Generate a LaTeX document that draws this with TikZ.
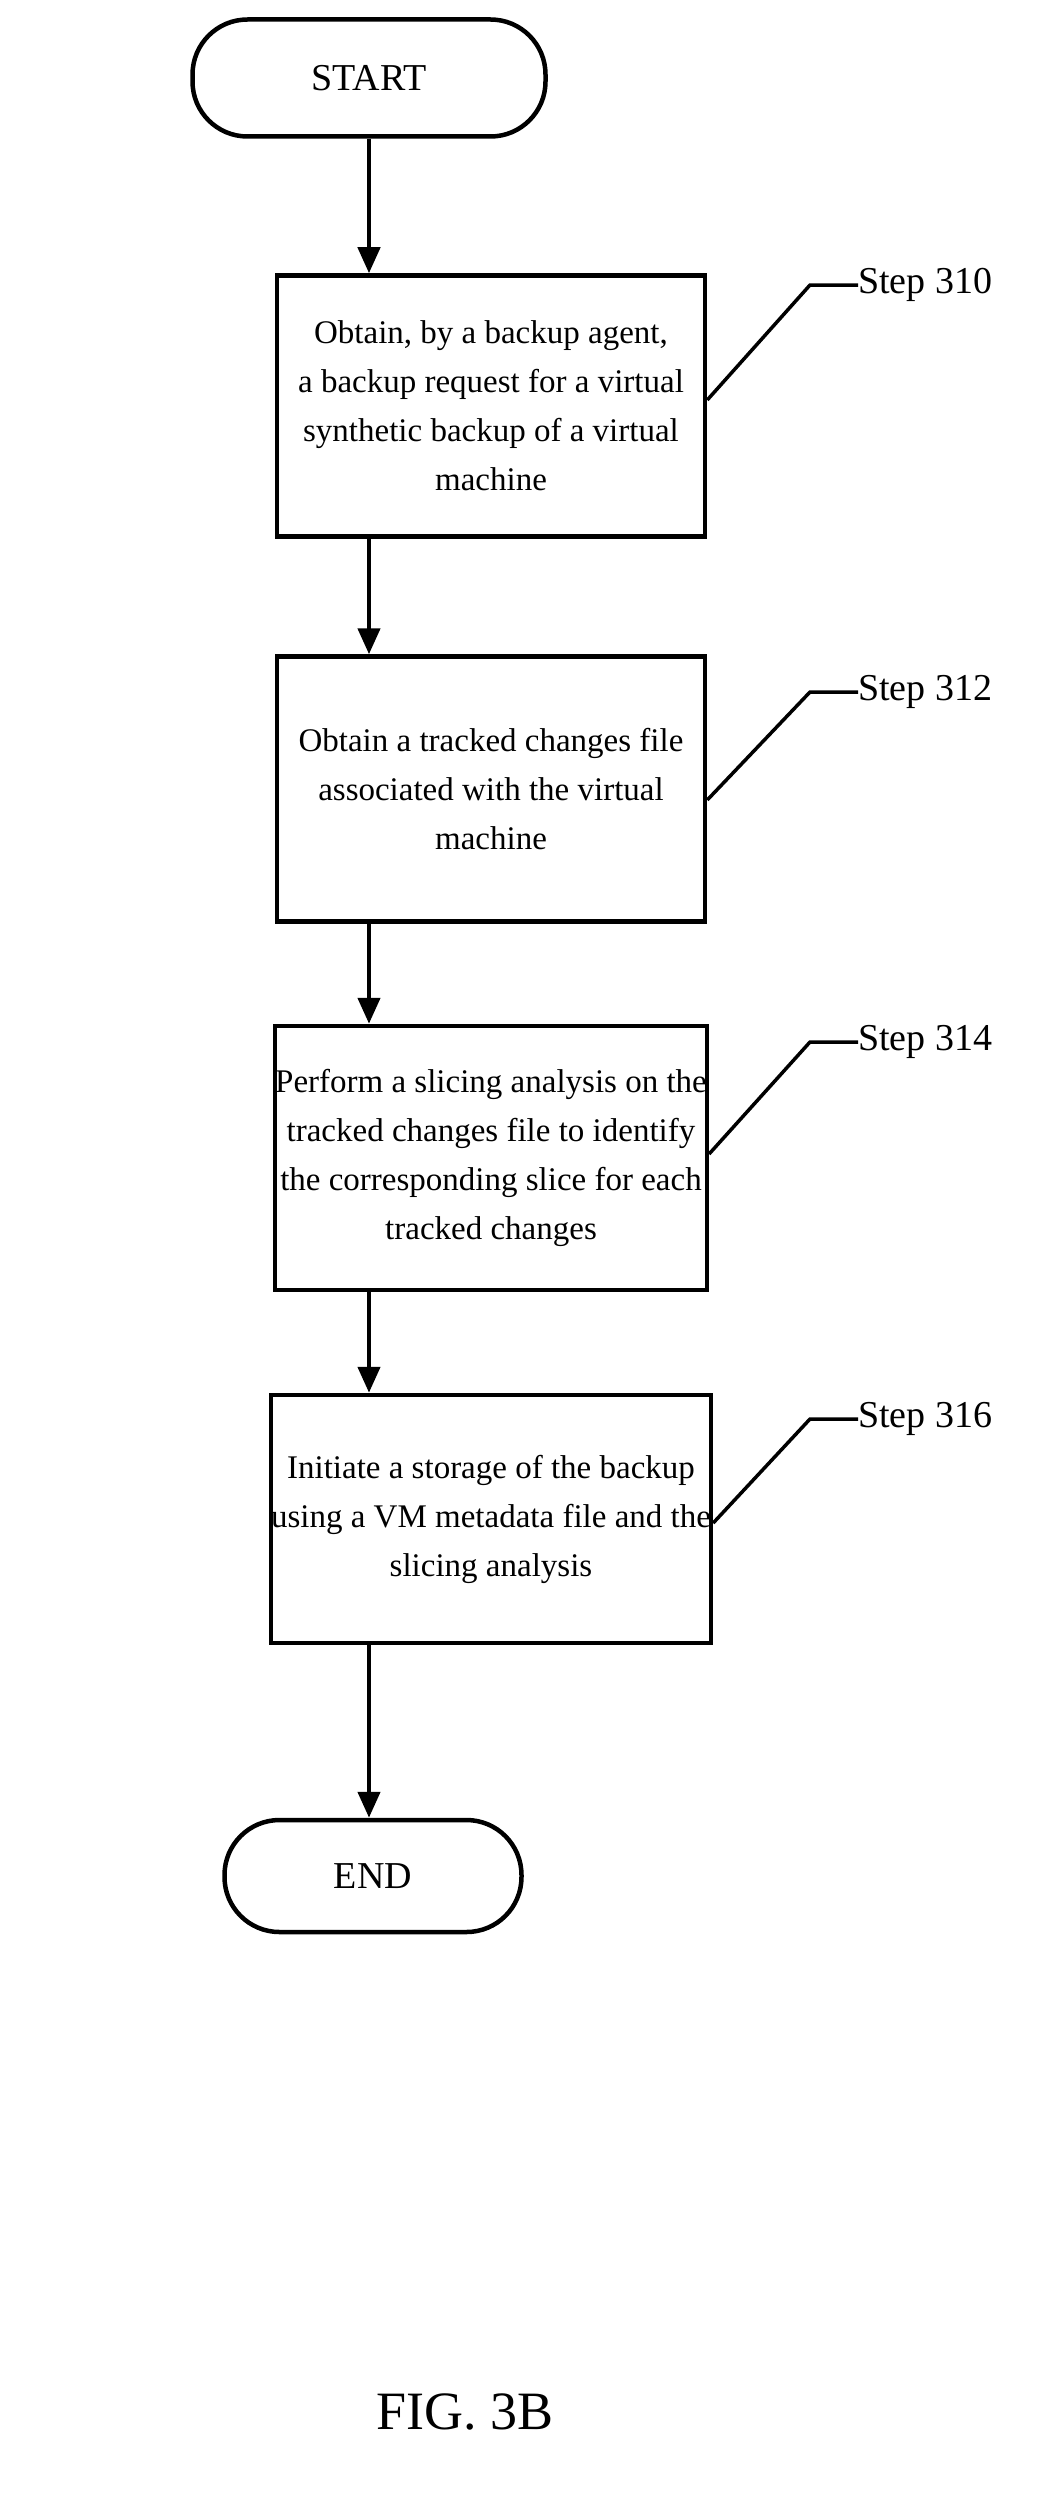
\documentclass[tikz,border=0pt]{standalone}
\usepackage{fontspec}
\setmainfont{Liberation Serif}
\usetikzlibrary{arrows.meta}
\begin{document}
\begin{tikzpicture}[x=1pt,y=-1pt,
  box/.style={draw,line width=4.5pt,minimum width=428pt,align=center,font=\fontsize{33}{49}\selectfont,inner sep=0pt},
  term/.style={draw,line width=4.5pt,rounded corners=55pt,font=\fontsize{38}{48}\selectfont,inner sep=0pt},
  arr/.style={line width=4.5pt,-{Triangle[length=26pt,width=22pt]}},
  lead/.style={line width=3.5pt},
  lab/.style={font=\fontsize{38}{48}\selectfont,anchor=west,inner sep=0pt}]
\useasboundingbox (0,0) rectangle (1050,2515);
\node[term,minimum width=353pt,minimum height=117pt] (start) at (369,78) {START};
\node[box,minimum height=261pt] (b1) at (491,406) {Obtain, by a backup agent,\\a backup request for a virtual\\synthetic backup of a virtual\\machine};
\node[box,minimum height=265pt] (b2) at (491,789) {Obtain a tracked changes file\\associated with the virtual\\machine};
\node[box,minimum height=264pt] (b3) at (491,1158) {Perform a slicing analysis on the\\tracked changes file to identify\\the corresponding slice for each\\tracked changes};
\node[box,minimum height=248pt] (b4) at (491,1519) {Initiate a storage of the backup\\using a VM metadata file and the\\slicing analysis};
\node[term,minimum width=297pt,minimum height=112pt] (end) at (373,1876) {END};
\draw[arr] (start.south) -- (start.south |- b1.north);
\draw[arr] (start.south |- b1.south) -- (start.south |- b2.north);
\draw[arr] (start.south |- b2.south) -- (start.south |- b3.north);
\draw[arr] (start.south |- b3.south) -- (start.south |- b4.north);
\draw[arr] (start.south |- b4.south) -- (start.south |- end.north);
\foreach \n/\ys/\yl/\s in {b1/400/285/310,b2/800/692/312,b3/1154/1042/314,b4/1523/1419/316}{
  \coordinate (p\s) at (810,\yl);
  \node[lab] (l\s) at (858,\yl) {Step \s};
  \draw[lead] (\n.east |- 0,\ys) -- (p\s) -- (l\s.west);
}
\node[font=\fontsize{54}{60}\selectfont] (fig) at (465,2412) {FIG. 3B};
\end{tikzpicture}
\end{document}
